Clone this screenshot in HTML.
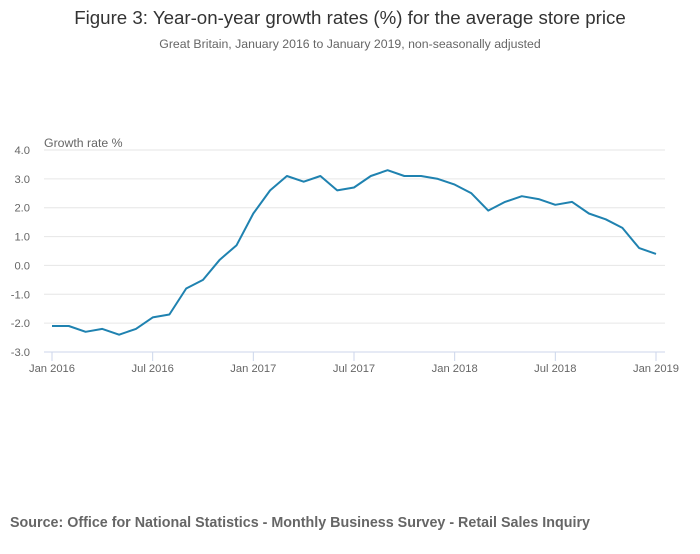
<!DOCTYPE html>
<html><head><meta charset="utf-8"><style>
body{margin:0;background:#fff;font-family:"Liberation Sans",sans-serif;}
svg text{font-family:"Liberation Sans",sans-serif;}
</style></head><body>
<svg id="chart" width="700" height="549" xmlns="http://www.w3.org/2000/svg">
<text x="350" y="24" text-anchor="middle" font-size="18.7" fill="#333">Figure 3: Year-on-year growth rates (%) for the average store price</text>
<text x="350" y="48" text-anchor="middle" font-size="12.3" fill="#666">Great Britain, January 2016 to January 2019, non-seasonally adjusted</text>
<text x="44" y="147" font-size="12.3" fill="#666">Growth rate %</text>
<g id="grid"></g>
<g id="yticks"></g>
<g id="xticks"></g>
<path id="line" fill="none" stroke="#1f82b0" stroke-width="2" stroke-linejoin="round"></path>
<text x="10" y="527" font-size="14.3" font-weight="bold" fill="#666">Source: Office for National Statistics - Monthly Business Survey - Retail Sales Inquiry</text>
</svg>
<script>
const values=[-2.1,-2.1,-2.3,-2.2,-2.4,-2.2,-1.8,-1.7,-0.8,-0.5,0.2,0.7,
1.8,2.6,3.1,2.9,3.1,2.6,2.7,3.1,3.3,3.1,3.1,3.0,
2.8,2.5,1.9,2.2,2.4,2.3,2.1,2.2,1.8,1.6,1.3,0.6,0.4];
const yTicks=[4,3,2,1,0,-1,-2,-3];
const yTickLabels=["4.0","3.0","2.0","1.0","0.0","-1.0","-2.0","-3.0"];
const xTickIdx=[0,6,12,18,24,30,36];
const xTickLabels=["Jan 2016","Jul 2016","Jan 2017","Jul 2017","Jan 2018","Jul 2018","Jan 2019"];
const NS="http://www.w3.org/2000/svg";
const x=i=>52+i*(604/36);
const y=v=>150+(4-v)*(202/7);
const grid=document.getElementById('grid'),yt=document.getElementById('yticks'),xt=document.getElementById('xticks');
yTicks.forEach((v,k)=>{
 const l=document.createElementNS(NS,'line');
 
 
 l.setAttribute('x1',44);l.setAttribute('x2',665);l.setAttribute('y1',y(v));l.setAttribute('y2',y(v));
 l.setAttribute('stroke',v===-3?'#ccd6eb':'#e6e6e6');l.setAttribute('stroke-width',1);
 grid.appendChild(l);
 const t=document.createElementNS(NS,'text');
 
 
 t.setAttribute('x',30);t.setAttribute('y',y(v)+4);t.setAttribute('text-anchor','end');
 t.setAttribute('font-size',11.2);t.setAttribute('fill','#666');t.textContent=yTickLabels[k];
 yt.appendChild(t);
});
xTickIdx.forEach((i,k)=>{
 const l=document.createElementNS(NS,'line');
 
 
 l.setAttribute('x1',x(i));l.setAttribute('x2',x(i));l.setAttribute('y1',352);l.setAttribute('y2',361);
 l.setAttribute('stroke','#ccd6eb');
 xt.appendChild(l);
 const t=document.createElementNS(NS,'text');
 
 
 t.setAttribute('x',x(i));t.setAttribute('y',372);t.setAttribute('text-anchor','middle');
 t.setAttribute('font-size',11.2);t.setAttribute('fill','#666');t.textContent=xTickLabels[k];
 xt.appendChild(t);
});
document.getElementById('line').setAttribute('d',values.map((v,i)=>(i?'L':'M')+x(i).toFixed(1)+' '+y(v).toFixed(1)).join(' '));
</script>
</body></html>
